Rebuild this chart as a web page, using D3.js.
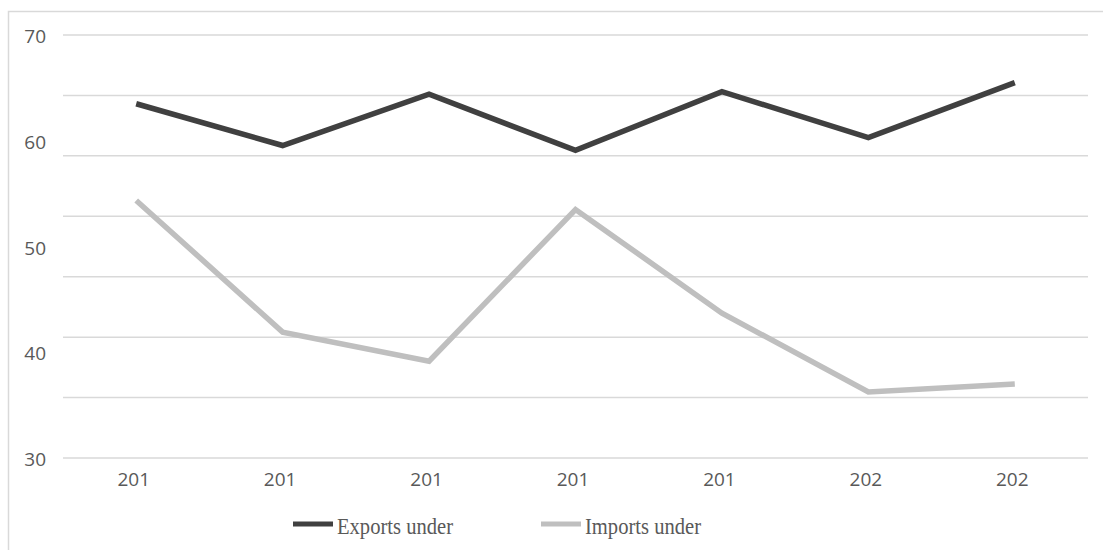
<!DOCTYPE html>
<html>
<head>
<meta charset="utf-8">
<script src="https://cdn.jsdelivr.net/npm/d3@7"></script>
<style>
  html, body { margin: 0; padding: 0; background: #fff; }
  svg { display: block; }
</style>
</head>
<body>
<svg id="chart" width="1103" height="550"></svg>
<script>
// ---- data ----
const categories = ["201", "201", "201", "201", "201", "202", "202"];
const exportsUnder = [63.5, 59.55, 64.4, 59.1, 64.65, 60.3, 65.5];
const importsUnder = [54.35, 41.9, 39.15, 53.5, 43.7, 36.25, 37.0];
const yTickLabels = [70, 60, 50, 40, 30];
const seriesNames = ["Exports under", "Imports under"];
const seriesColors = ["#404040", "#bfbfbf"];
const gridCount = 8;

(function () {
// ---- layout ----
const svg = d3.select("#chart");
const pLeft = 63, pRight = 1088, pTop = 35, pBottom = 458;

// outer frame
svg.append("rect")
  .attr("x", 8.5).attr("y", 11.5)
  .attr("width", 1200).attr("height", 1000)
  .attr("fill", "none").attr("stroke", "#d9d9d9").attr("stroke-width", 1.5);

const x = d3.scalePoint().domain(d3.range(categories.length)).range([pLeft, pRight]).padding(0.5);
const y = d3.scaleLinear().domain([30, 70]).range([pBottom, pTop]);

// gridlines (evenly spaced)
const gridVals = d3.range(gridCount).map(i => 30 + i * 40 / (gridCount - 1));
svg.append("g").selectAll("line").data(gridVals).join("line")
  .attr("x1", pLeft).attr("x2", pRight)
  .attr("y1", d => y(d)).attr("y2", d => y(d))
  .attr("stroke", "#d9d9d9").attr("stroke-width", 1.5);

// y axis labels
const yAxis = d3.axisLeft(y).tickValues(yTickLabels).tickSize(0).tickPadding(0);
const gy = svg.append("g").attr("transform", "translate(46,1.5)").call(yAxis);
gy.select(".domain").remove();
gy.selectAll("text")
  .attr("font-family", "'Open Sans', sans-serif")
  .attr("font-size", 19).attr("fill", "#595959");

// x axis labels
const xAxis = d3.axisBottom(x).tickFormat(i => categories[i]).tickSize(0).tickPadding(0);
const gx = svg.append("g").attr("transform", `translate(-3,${pBottom + 14})`).call(xAxis);
gx.select(".domain").remove();
gx.selectAll("text")
  .attr("font-family", "'Open Sans', sans-serif")
  .attr("font-size", 19).attr("fill", "#595959");

// lines
const line = d3.line().x((d, i) => x(i)).y(d => y(d));
[exportsUnder, importsUnder].forEach((s, k) => {
  svg.append("path").datum(s)
    .attr("d", line)
    .attr("fill", "none")
    .attr("stroke", seriesColors[k])
    .attr("stroke-width", 5.5)
    .attr("stroke-linejoin", "miter")
    .attr("stroke-linecap", "butt");
});

// legend
const legendX = [293, 541];
const lg = svg.append("g");
seriesNames.forEach((name, k) => {
  lg.append("line")
    .attr("x1", legendX[k]).attr("x2", legendX[k] + 40)
    .attr("y1", 524).attr("y2", 524)
    .attr("stroke", seriesColors[k]).attr("stroke-width", 5);
  lg.append("text")
    .attr("x", legendX[k] + 44).attr("y", 534)
    .attr("font-family", "'Liberation Serif', 'Times New Roman', serif")
    .attr("font-size", 24)
    .attr("fill", "#595959")
    .attr("textLength", 116)
    .attr("lengthAdjust", "spacingAndGlyphs")
    .text(name);
});
})();
</script>
</body>
</html>
